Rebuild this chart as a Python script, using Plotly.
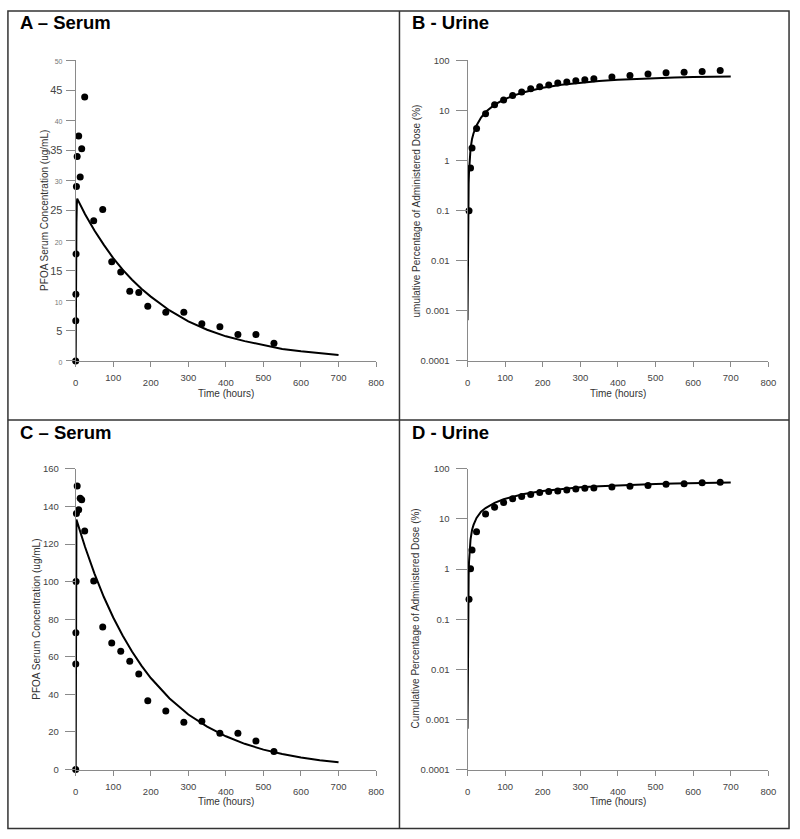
import plotly.graph_objects as go

# ---------------- data ----------------
# Panel A - serum (observed)
A_t_obs = [0, 0.25, 0.5, 1, 2, 4, 8, 12, 16, 24, 48, 72, 96, 120, 144, 168, 192, 240, 288, 336, 384, 432, 480, 528]
A_obs = [0, 6.7, 11.1, 17.8, 29.0, 34.0, 37.4, 30.6, 35.3, 43.9, 23.3, 25.2, 16.5, 14.8, 11.6, 11.4, 9.1, 8.1, 8.1, 6.2, 5.7, 4.4, 4.4, 2.95]
# Panel A - model curve
A_t_fit = [0, 0.5, 1, 2, 3, 4, 25, 50, 75, 100, 125, 150, 175, 200, 250, 300, 350, 400, 450, 500, 550, 600, 650, 700]
A_fit = [0, 13, 18, 23, 26, 27, 24.4, 21.7, 19.3, 17.1, 15.2, 13.5, 12.0, 10.7, 8.4, 6.6, 5.2, 4.1, 3.3, 2.6, 2.0, 1.6, 1.27, 1.0]

# Panel B - urine (observed)
B_t_obs = [4, 8, 12, 24, 48, 72, 96, 120, 144, 168, 192, 216, 240, 264, 288, 312, 336, 384, 432, 480, 528, 576, 624, 672]
B_obs = [0.10, 0.71, 1.77, 4.37, 8.6, 13.0, 16.1, 19.8, 23.4, 26.9, 29.8, 32.2, 35.3, 36.9, 39.2, 41.0, 42.9, 46.2, 49.9, 53.0, 56.2, 58.0, 59.8, 62.5]
# Panel B - model curve
B_t_fit = [0, 0.5, 1, 2, 3, 4, 6, 8, 12, 16, 24, 36, 48, 72, 96, 120, 150, 200, 250, 300, 350, 400, 450, 500, 550, 600, 650, 700]
B_fit = [0.00065, 0.008, 0.04, 0.15, 0.35, 0.6, 1.2, 1.7, 2.7, 3.5, 5.0, 7.2, 9.3, 13.0, 16.3, 19.5, 23.0, 28.3, 32.5, 36.0, 38.8, 41.0, 42.8, 44.2, 45.3, 46.2, 47.0, 47.6]

# Panel C - serum (observed)
C_t_obs = [0, 0.25, 0.5, 1, 2, 4, 8, 12, 16, 24, 48, 72, 96, 120, 144, 168, 192, 240, 288, 336, 384, 432, 480, 528]
C_obs = [0, 56.2, 72.8, 100, 136.2, 150.9, 138.3, 144.4, 143.5, 126.9, 100.3, 75.8, 67.4, 63.0, 57.6, 50.8, 36.6, 31.2, 25.2, 25.7, 19.3, 19.3, 15.2, 9.6]
# Panel C - model curve
C_t_fit = [0, 0.5, 1, 1.5, 2, 25, 50, 75, 100, 125, 150, 175, 200, 250, 300, 350, 400, 450, 500, 550, 600, 650, 700]
C_fit = [0, 70, 100, 125, 133, 118.4, 104.3, 91.8, 80.9, 71.3, 62.8, 55.3, 48.7, 37.8, 29.3, 22.8, 17.7, 13.7, 10.6, 8.3, 6.4, 5.0, 3.85]

# Panel D - urine (observed)
D_t_obs = [4, 8, 12, 24, 48, 72, 96, 120, 144, 168, 192, 216, 240, 264, 288, 312, 336, 384, 432, 480, 528, 576, 624, 672]
D_obs = [0.25, 1.01, 2.39, 5.57, 12.6, 17.1, 21.4, 25.3, 28.1, 30.7, 33.7, 35.2, 36.3, 38.0, 39.8, 41.0, 41.6, 43.5, 44.9, 46.3, 49.1, 50.7, 53.0, 53.8]
# Panel D - model curve
D_t_fit = [0, 0.5, 1, 1.5, 2, 3, 4, 6, 8, 12, 16, 24, 36, 48, 72, 96, 120, 150, 200, 250, 300, 350, 400, 450, 500, 550, 600, 650, 700]
D_fit = [0.00065, 0.01, 0.06, 0.17, 0.32, 0.75, 1.4, 2.8, 3.9, 6.0, 7.6, 10.5, 14.0, 16.5, 21.0, 24.8, 28.0, 31.5, 36.2, 39.8, 42.8, 45.2, 47.2, 48.8, 50.0, 51.1, 52.0, 52.7, 53.4]

panel_titles = ["A \u2013 Serum", "B - Urine", "C \u2013 Serum", "D - Urine"]
x_title = "Time (hours)"
y_titles = ["PFOA Serum Concentration (ug/mL)",
            "umulative Percentage of Administered Dose (%)",
            "PFOA Serum Concentration (ug/mL)",
            "Cumulative Percentage of Administered Dose (%)"]
x_ticks_even = [0, 200, 400, 600, 800]
x_ticks_odd = [100, 300, 500, 700]
A_yticks = [0, 5, 10, 15, 20, 25, 30, 35, 40, 45, 50]
C_yticks = [0, 20, 40, 60, 80, 100, 120, 140, 160]
log_ticks = [0.0001, 0.001, 0.01, 0.1, 1, 10, 100]
log_labels = ["0.0001", "0.001", "0.01", "0.1", "1", "10", "100"]

# ---------------- layout geometry ----------------
W, H = 800, 839
def px_x(p):
    return p / W
def px_y(p):
    return 1 - p / H

x_dom_left = [px_x(73.7), px_x(378.3)]
x_dom_right = [px_x(471), px_x(776)]
y_dom_top = [px_y(359.7), px_y(55)]
y_dom_bot = [px_y(773.7), px_y(469)]

fig = go.Figure()

panels = [
    (A_t_obs, A_obs, A_t_fit, A_fit),
    (B_t_obs, B_obs, B_t_fit, B_fit),
    (C_t_obs, C_obs, C_t_fit, C_fit),
    (D_t_obs, D_obs, D_t_fit, D_fit),
]

for i, (to, vo, tf, vf) in enumerate(panels):
    n = i + 1
    xa = "x" if n == 1 else f"x{n}"
    ya = "y" if n == 1 else f"y{n}"
    fig.add_trace(go.Scatter(x=tf, y=vf, mode="lines", xaxis=xa, yaxis=ya,
                             line=dict(color="black", width=2), showlegend=False,
                             cliponaxis=False, hoverinfo="skip"))
    fig.add_trace(go.Scatter(x=to, y=vo, mode="markers", xaxis=xa, yaxis=ya,
                             marker=dict(color="black", size=7), showlegend=False,
                             cliponaxis=False))
    # invisible trace for the overlay axis carrying the odd tick labels
    fig.add_trace(go.Scatter(x=[0], y=[vo[-1]], mode="markers", xaxis=f"x{n+4}", yaxis=ya,
                             marker=dict(opacity=0), showlegend=False, hoverinfo="skip"))

axis_col = "#8a8a8a"
tick_font = dict(family="Liberation Sans, Arial, sans-serif", size=9.5, color="#444")

def xaxis_base(domain, anchor):
    return dict(domain=domain, anchor=anchor, range=[0, 800], showline=True, linecolor=axis_col,
                linewidth=1, ticks="outside", ticklen=5, tickcolor=axis_col, tickwidth=1,
                showgrid=False, zeroline=False, tickvals=x_ticks_even,
                tickfont=tick_font, ticklabelstandoff=8, fixedrange=True)

def xaxis_overlay(over, anchor):
    return dict(overlaying=over, anchor=anchor, range=[0, 800], showline=False,
                ticks="outside", ticklen=5, tickcolor=axis_col, tickwidth=1,
                showgrid=False, zeroline=False, tickvals=x_ticks_odd, side="bottom",
                tickfont=tick_font, ticklabelstandoff=3, fixedrange=True)

A_ticktext = []
for v in A_yticks:
    if v % 10 == 0:
        A_ticktext.append(f"<span style='font-size:7px;color:#777'>{v}</span>")
    else:
        A_ticktext.append(str(v))

fig.update_layout(
    xaxis=xaxis_base(x_dom_left, "y"),
    xaxis2=xaxis_base(x_dom_right, "y2"),
    xaxis3=xaxis_base(x_dom_left, "y3"),
    xaxis4=xaxis_base(x_dom_right, "y4"),
    xaxis5=xaxis_overlay("x", "y"),
    xaxis6=xaxis_overlay("x2", "y2"),
    xaxis7=xaxis_overlay("x3", "y3"),
    xaxis8=xaxis_overlay("x4", "y4"),
    yaxis=dict(domain=y_dom_top, anchor="x", range=[0, 50], tickvals=A_yticks, ticktext=A_ticktext,
               showline=True, linecolor=axis_col, ticks="outside", ticklen=9, tickcolor=axis_col,
               showgrid=False, zeroline=False, tickfont=dict(tick_font, size=11), ticklabelstandoff=1,
               fixedrange=True),
    yaxis2=dict(domain=y_dom_top, anchor="x2", type="log", range=[-4, 2], tickvals=log_ticks,
                ticktext=log_labels, showline=True, linecolor=axis_col, ticks="outside", ticklen=11,
                tickcolor=axis_col, showgrid=False, zeroline=False, tickfont=tick_font,
                ticklabelstandoff=4, fixedrange=True),
    yaxis3=dict(domain=y_dom_bot, anchor="x3", range=[0, 160], tickvals=C_yticks,
                showline=True, linecolor=axis_col, ticks="outside", ticklen=10, tickcolor=axis_col,
                showgrid=False, zeroline=False, tickfont=tick_font, ticklabelstandoff=4,
                fixedrange=True),
    yaxis4=dict(domain=y_dom_bot, anchor="x4", type="log", range=[-4, 2], tickvals=log_ticks,
                ticktext=log_labels, showline=True, linecolor=axis_col, ticks="outside", ticklen=11,
                tickcolor=axis_col, showgrid=False, zeroline=False, tickfont=tick_font,
                ticklabelstandoff=4, fixedrange=True),
    width=W, height=H,
    margin=dict(l=0, r=0, t=0, b=0),
    paper_bgcolor="white", plot_bgcolor="white",
    font=dict(family="Liberation Sans, Arial, sans-serif"),
    showlegend=False,
)

# panel borders
border = dict(color="#333", width=1.5)
shapes = [
    dict(type="rect", xref="paper", yref="paper", x0=px_x(5), x1=px_x(797), y0=px_y(833.5), y1=px_y(5), line=border),
    dict(type="line", xref="paper", yref="paper", x0=px_x(402), x1=px_x(402), y0=px_y(833.5), y1=px_y(5), line=border),
    dict(type="line", xref="paper", yref="paper", x0=px_x(5), x1=px_x(797), y0=px_y(419.5), y1=px_y(419.5), line=border),
]
fig.update_layout(shapes=shapes)

annotations = []
title_pos = [(15, 17), (412.7, 17), (15, 432), (412.7, 432)]
for txt, (px, py) in zip(panel_titles, title_pos):
    annotations.append(dict(text=f"<b>{txt}</b>", x=px_x(px), y=px_y(py), xref="paper", yref="paper",
                            xanchor="left", yanchor="middle", showarrow=False,
                            font=dict(size=18.5, color="black", family="Liberation Sans, Arial, sans-serif")))
xt_pos = [(226, 392.5), (623.5, 392.5), (226, 806.5), (623.5, 806.5)]
for (px, py) in xt_pos:
    annotations.append(dict(text=x_title, x=px_x(px), y=px_y(py), xref="paper", yref="paper",
                            xanchor="center", yanchor="middle", showarrow=False,
                            font=dict(size=10, color="#333")))
yt_pos = [(42.7, 207.5), (419, 208), (34.3, 621), (418.3, 621)]
for txt, (px, py) in zip(y_titles, yt_pos):
    annotations.append(dict(text=txt, x=px_x(px), y=px_y(py), xref="paper", yref="paper",
                            xanchor="center", yanchor="middle", showarrow=False, textangle=-90,
                            font=dict(size=10, color="#333")))
fig.update_layout(annotations=annotations)

# remove the default page margin so the 800x839 figure fills the window exactly
fig.write_html("out.html",
               config={"displayModeBar": False},
               post_script="document.body.style.margin='0px';document.body.style.overflow='hidden';")
